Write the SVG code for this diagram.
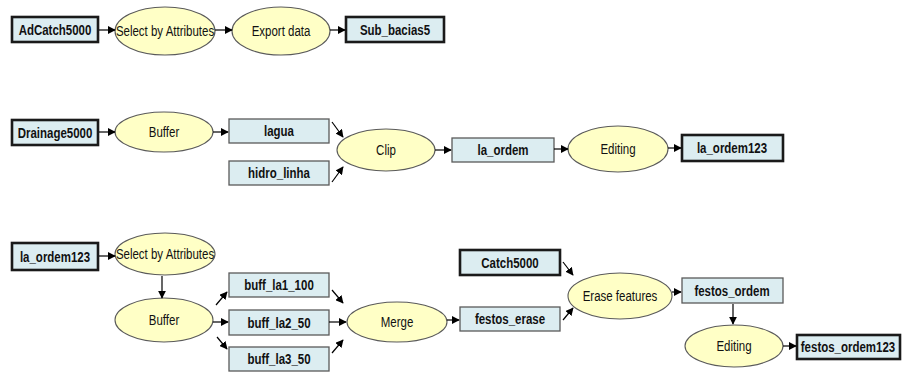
<svg xmlns="http://www.w3.org/2000/svg" width="909" height="372" viewBox="0 0 909 372">
  <style>
    .data rect { fill: #dcedf1; stroke: #5a5a5a; stroke-width: 1.3; }
    .src rect { fill: #dcedf1; stroke: #1a1a1a; stroke-width: 2.6; }
    .tool ellipse { fill: #ffffc6; stroke: #5a5a5a; stroke-width: 1.1; }
    text { font-family: "Liberation Sans", Arial, sans-serif; font-size: 14px; fill: #111; text-anchor: middle; }
    .data text, .src text { font-weight: bold; }
    #connectors line { stroke: #000; stroke-width: 1.2; marker-end: url(#arrow); }
  </style>
  <defs>
    <marker id="arrow" viewBox="0 0 10 10" refX="9" refY="5" markerWidth="8" markerHeight="8" markerUnits="userSpaceOnUse" orient="auto">
      <path d="M0,0 L10,5 L0,10 z" fill="#000"/>
    </marker>
  </defs>
  <rect width="909" height="372" fill="#fff"/>

  <!-- model 1 -->
  <g id="adcatch5000" class="src"><rect x="12" y="17" width="86" height="25"/><text transform="translate(55,35) scale(.82,1)">AdCatch5000</text></g>
  <g id="select1" class="tool"><ellipse cx="165" cy="31" rx="50" ry="24"/><text transform="translate(165,36) scale(.82,1)">Select by Attributes</text></g>
  <g id="export" class="tool"><ellipse cx="281" cy="31" rx="49" ry="24"/><text transform="translate(281,36) scale(.82,1)">Export data</text></g>
  <g id="sub_bacias5" class="src"><rect x="346" y="17" width="98" height="25"/><text transform="translate(395,35) scale(.82,1)">Sub_bacias5</text></g>

  <!-- model 2 -->
  <g id="drainage5000" class="src"><rect x="12" y="120" width="86" height="25"/><text transform="translate(55,138) scale(.82,1)">Drainage5000</text></g>
  <g id="buffer1" class="tool"><ellipse cx="164" cy="132" rx="49" ry="20"/><text transform="translate(164,137) scale(.82,1)">Buffer</text></g>
  <g id="lagua" class="data"><rect x="229" y="119" width="100" height="24"/><text transform="translate(279,136) scale(.82,1)">lagua</text></g>
  <g id="hidro_linha" class="data"><rect x="229" y="161" width="100" height="24"/><text transform="translate(279,178) scale(.82,1)">hidro_linha</text></g>
  <g id="clip" class="tool"><ellipse cx="386" cy="150" rx="49" ry="21"/><text transform="translate(386,155) scale(.82,1)">Clip</text></g>
  <g id="la_ordem" class="data"><rect x="452" y="138" width="102" height="24"/><text transform="translate(503,155) scale(.82,1)">la_ordem</text></g>
  <g id="editing1" class="tool"><ellipse cx="618" cy="149" rx="50" ry="23"/><text transform="translate(618,154) scale(.82,1)">Editing</text></g>
  <g id="la_ordem123a" class="src"><rect x="682" y="135" width="101" height="26"/><text transform="translate(732,153) scale(.82,1)">la_ordem123</text></g>

  <!-- model 3 -->
  <g id="la_ordem123b" class="src"><rect x="12" y="243" width="86" height="27"/><text transform="translate(55,262) scale(.82,1)">la_ordem123</text></g>
  <g id="select2" class="tool"><ellipse cx="165" cy="254" rx="50" ry="21"/><text transform="translate(165,259) scale(.82,1)">Select by Attributes</text></g>
  <g id="buffer2" class="tool"><ellipse cx="164" cy="320" rx="49" ry="22"/><text transform="translate(164,325) scale(.82,1)">Buffer</text></g>
  <g id="buff_la1_100" class="data"><rect x="229" y="273" width="100" height="24"/><text transform="translate(279,290) scale(.82,1)">buff_la1_100</text></g>
  <g id="buff_la2_50" class="data"><rect x="229" y="310" width="100" height="25"/><text transform="translate(279,328) scale(.82,1)">buff_la2_50</text></g>
  <g id="buff_la3_50" class="data"><rect x="229" y="347" width="100" height="24"/><text transform="translate(279,364) scale(.82,1)">buff_la3_50</text></g>
  <g id="merge" class="tool"><ellipse cx="397" cy="322" rx="50" ry="20"/><text transform="translate(397,327) scale(.82,1)">Merge</text></g>
  <g id="festos_erase" class="data"><rect x="460" y="307" width="100" height="24"/><text transform="translate(510,324) scale(.82,1)">festos_erase</text></g>
  <g id="catch5000" class="src"><rect x="460" y="250" width="100" height="25"/><text transform="translate(510,268) scale(.82,1)">Catch5000</text></g>
  <g id="erase" class="tool"><ellipse cx="620" cy="296" rx="52" ry="23"/><text transform="translate(620,301) scale(.82,1)">Erase features</text></g>
  <g id="festos_ordem" class="data"><rect x="682" y="278" width="101" height="25"/><text transform="translate(732,296) scale(.82,1)">festos_ordem</text></g>
  <g id="editing2" class="tool"><ellipse cx="734" cy="346" rx="49" ry="21"/><text transform="translate(734,351) scale(.82,1)">Editing</text></g>
  <g id="festos_ordem123" class="src"><rect x="797" y="335" width="103" height="24"/><text transform="translate(848,352) scale(.82,1)">festos_ordem123</text></g>

  <g id="connectors">
    <line x1="99" y1="30" x2="115" y2="30"/>
    <line x1="215" y1="30" x2="232" y2="30"/>
    <line x1="330" y1="30" x2="345" y2="30"/>

    <line x1="99" y1="132" x2="115" y2="132"/>
    <line x1="213" y1="132" x2="228" y2="132"/>
    <line x1="332" y1="122" x2="343" y2="137"/>
    <line x1="332" y1="182" x2="343" y2="167"/>
    <line x1="435" y1="150" x2="451" y2="150"/>
    <line x1="554" y1="149" x2="568" y2="149"/>
    <line x1="668" y1="148" x2="681" y2="148"/>

    <line x1="99" y1="256" x2="115" y2="256"/>
    <line x1="162" y1="276" x2="162" y2="298"/>
    <line x1="216" y1="305" x2="227" y2="292"/>
    <line x1="213" y1="322" x2="228" y2="322"/>
    <line x1="217" y1="337" x2="227" y2="349"/>
    <line x1="332" y1="290" x2="343" y2="303"/>
    <line x1="329" y1="322" x2="346" y2="322"/>
    <line x1="332" y1="353" x2="343" y2="340"/>
    <line x1="447" y1="320" x2="459" y2="320"/>
    <line x1="563" y1="262" x2="573" y2="275"/>
    <line x1="563" y1="320" x2="573" y2="308"/>
    <line x1="672" y1="292" x2="681" y2="292"/>
    <line x1="733" y1="304" x2="733" y2="324"/>
    <line x1="783" y1="346" x2="796" y2="346"/>
  </g>
</svg>
